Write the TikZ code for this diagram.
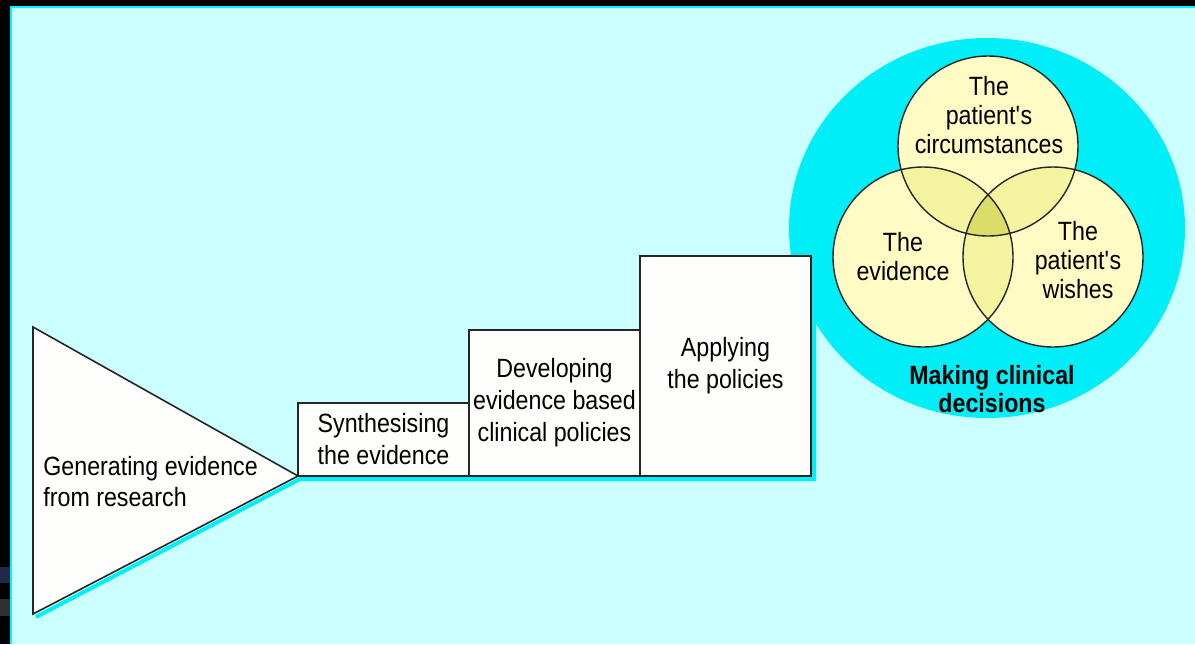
\documentclass[tikz,border=0pt]{standalone}
\usepackage{fontspec}
\setmainfont{Liberation Sans}[FakeStretch=0.88]
\usetikzlibrary{positioning}
\definecolor{bgcyan}{RGB}{204,255,255}
\definecolor{brightcyan}{RGB}{0,238,248}
\definecolor{edgecyan}{RGB}{0,245,255}
\definecolor{venny}{RGB}{255,251,196}
\definecolor{venn2}{RGB}{244,244,160}
\definecolor{venn3}{RGB}{218,222,104}
\definecolor{boxwhite}{RGB}{254,254,252}
\definecolor{navyart}{RGB}{32,42,72}
\definecolor{grayart}{RGB}{48,48,48}
\newcommand{\apos}{\textquotesingle}
\tikzset{
  stagebox/.style={draw=black!85, line width=0.8pt, fill=boxwhite, rectangle,
    minimum width=85.5pt, inner sep=0pt, align=center,
    font=\fontsize{13.2}{16}\selectfont},
  shadowline/.style={draw=brightcyan, line width=2pt},
  venntext/.style={align=center, font=\fontsize{13.2}{14.5}\selectfont},
  vennline/.style={draw=black!85, line width=0.7pt}
}
\begin{document}
\begin{tikzpicture}[x=0.5pt, y=-0.5pt]
\useasboundingbox (0,0) rectangle (1195,644);
% background and frame
\fill[bgcyan] (0,0) rectangle (1195,644);
\fill[black] (0,0) rectangle (1195,6);
\fill[black] (0,0) rectangle (10,644);
\fill[edgecyan] (10,6) rectangle (1195,8);
\fill[edgecyan] (10,6) rectangle (12,644);
\fill[navyart] (0,567) rectangle (10,583);
\fill[grayart] (0,599) rectangle (10,616);

% big cyan disc
\fill[brightcyan] (987,228) ellipse [x radius=198, y radius=190];

% shadows
\coordinate (shA) at (36,617);
\coordinate (shB) at (300,479);
\coordinate (shC) at (814,479);
\coordinate (shD) at (814,259);
\draw[shadowline] (shA) -- (shB) -- (shC) -- (shD);

% triangle
\coordinate (t1) at (33,327);
\coordinate (t2) at (33,614);
\coordinate (t3) at (298,476);
\filldraw[fill=boxwhite, draw=black!85, line width=0.8pt, line join=miter] (t1) -- (t3) -- (t2) -- cycle;
\node[anchor=west, align=left, inner sep=0pt, font=\fontsize{13.2}{15.5}\selectfont] (gen) at (43,482)
  {Generating evidence\\from research};

% boxes
\node[stagebox, minimum height=36.5pt] (syn) at (383.5,439.5) {Synthesising\\the evidence};
\node[stagebox, minimum height=73pt] (dev) at (554.5,403) {Developing\\evidence based\\clinical policies};
\node[stagebox, minimum height=110pt] (app) at (725.5,366) {Applying\\the policies};

% Venn diagram
\coordinate (ct) at (988,146);
\coordinate (cl) at (923,257);
\coordinate (cr) at (1053,257);
\fill[venny] (ct) circle (90) (cl) circle (90) (cr) circle (90);
\begin{scope}
  \clip (ct) circle (90);
  \fill[venn2] (cl) circle (90);
  \fill[venn2] (cr) circle (90);
\end{scope}
\begin{scope}
  \clip (cl) circle (90);
  \fill[venn2] (cr) circle (90);
\end{scope}
\begin{scope}
  \clip (ct) circle (90);
  \clip (cl) circle (90);
  \fill[venn3] (cr) circle (90);
\end{scope}
\draw[vennline] (ct) circle (90) (cl) circle (90) (cr) circle (90);

\node[venntext] (vt) at (989,115) {The\\patient\apos s\\circumstances};
\node[venntext] (vl) at (903,257) {The\\evidence};
\node[venntext] (vr) at (1078,260) {The\\patient\apos s\\wishes};
\node[align=center, font=\bfseries\fontsize{13.2}{14}\selectfont] (mcd) at (992,389) {Making clinical\\decisions};
\end{tikzpicture}
\end{document}
